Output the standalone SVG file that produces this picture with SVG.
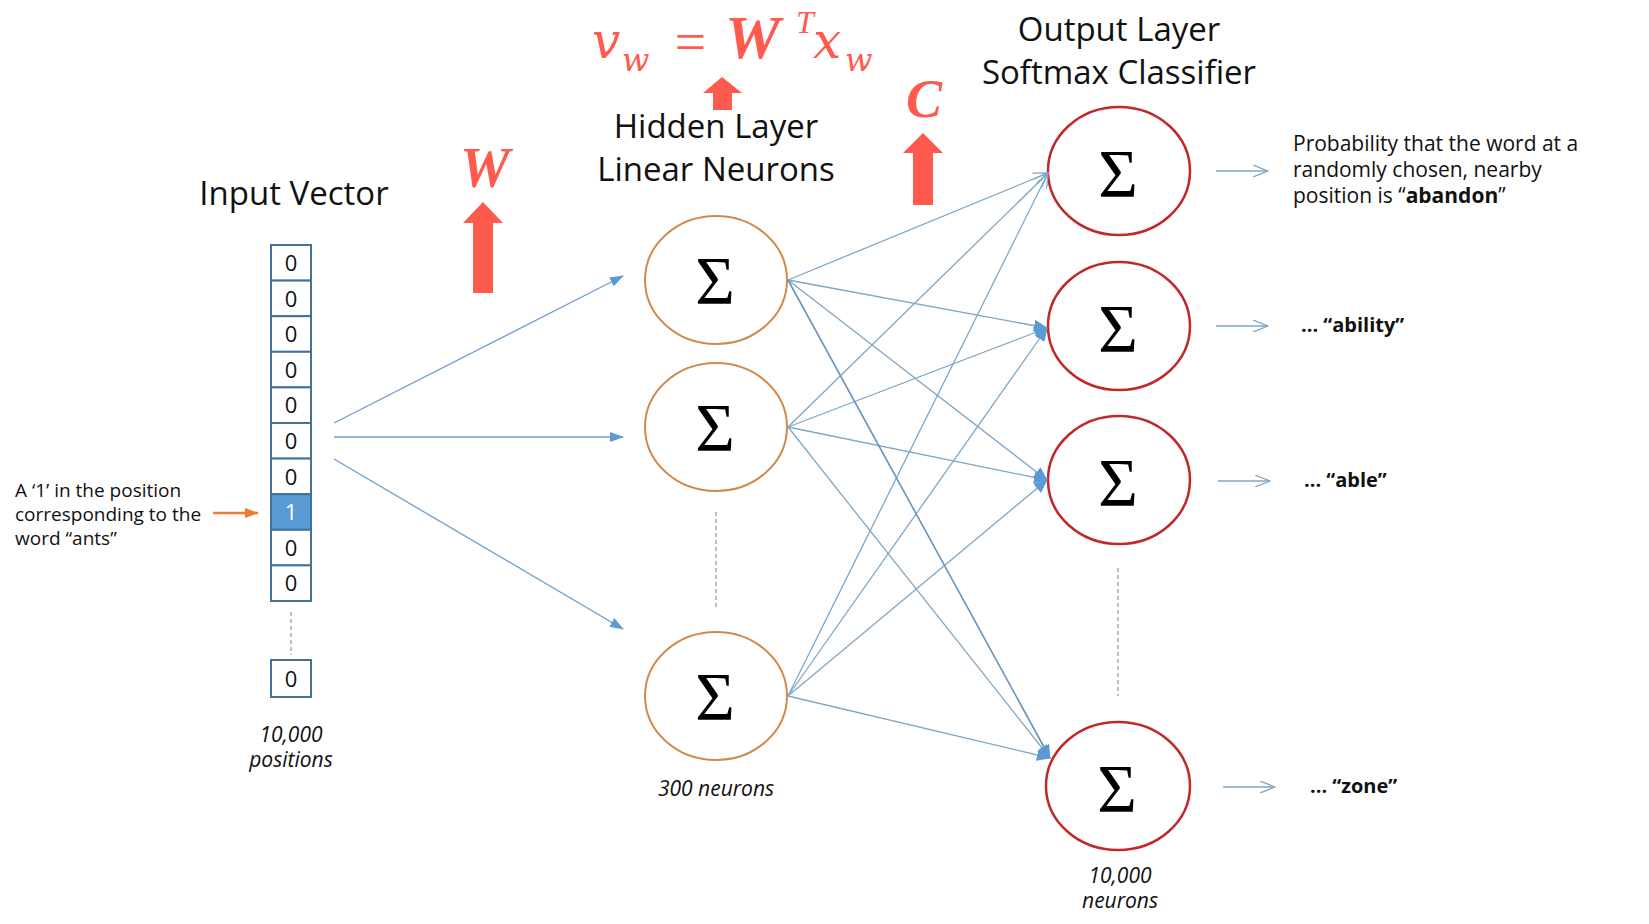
<svg xmlns="http://www.w3.org/2000/svg" width="1649" height="924" viewBox="0 0 1649 924">
<defs>
<style>
.t{font-family:"Open Sans","Noto Sans",sans-serif;fill:#111}
.title{font-size:33px}
.sm{font-size:19px}
.sr{font-size:21px}
.it{font-style:italic;font-size:21px}
.b{font-weight:bold}
.digit{font-family:"Open Sans",sans-serif;font-size:22px;text-anchor:middle;fill:#111}
.sig{font-family:"Liberation Serif","DejaVu Serif",serif;font-size:68px;text-anchor:middle;fill:#000}
.red{font-family:"Liberation Serif","DejaVu Serif",serif;font-style:italic;fill:#ff5a4e}
.redd{font-family:"DejaVu Serif","Liberation Serif",serif;font-style:italic;fill:#ff5a4e}
.box{fill:#fff;stroke:#41719c;stroke-width:2}
.hid{fill:#fff;stroke:#d08a4c;stroke-width:2}
.out{fill:#fff;stroke:#c0282b;stroke-width:2.5}
.c{stroke:#7fa6c6;stroke-width:1.3;fill:none}
.ci{stroke:#6f9ccc;stroke-width:1.3;fill:none}
.dash{stroke:#7a9ab5;stroke-width:1.2;stroke-dasharray:4 3;fill:none}
</style>
<marker id="af" markerWidth="14" markerHeight="10" refX="13" refY="5" orient="auto" markerUnits="userSpaceOnUse"><path d="M0,0 L14,5 L0,10 z" fill="#5b9bd5"/></marker>
<marker id="ah" markerWidth="14" markerHeight="12" refX="13" refY="6" orient="auto" markerUnits="userSpaceOnUse"><path d="M0,0 L14,6 L0,12 z" fill="#5b9bd5"/></marker>
<marker id="ao" markerWidth="16" markerHeight="12" refX="15" refY="6" orient="auto" markerUnits="userSpaceOnUse"><path d="M0,0 L15,6 L0,12" fill="none" stroke="#7fa6c6" stroke-width="1.3"/></marker>
<marker id="aor" markerWidth="14" markerHeight="10" refX="13" refY="5" orient="auto" markerUnits="userSpaceOnUse"><path d="M0,0 L14,5 L0,10 z" fill="#ed7d31"/></marker>
</defs>
<rect width="1649" height="924" fill="#fff"/>

<g id="formula">
<text class="redd" x="592" y="58" font-size="50">v</text>
<text class="redd" x="622" y="71" font-size="32">w</text>
<text class="red" x="671" y="61" font-size="56" font-style="normal">=</text>
<text class="red" x="725" y="58" font-size="62" font-weight="bold">W</text>
<text class="red" x="796" y="33" font-size="32">T</text>
<text class="redd" x="813" y="58" font-size="50">x</text>
<text class="redd" x="845" y="71" font-size="32">w</text>
<path d="M703,93 L722,77 L742,93 L732,93 L732,110 L713,110 L713,93 z" fill="#ff5a4e"/>
</g>

<g id="W-label">
<text class="red" x="485" y="187" font-size="56" font-weight="bold" text-anchor="middle">W</text>
<path d="M463,223 L483,202 L503,223 L493,223 L493,293 L473,293 L473,223 z" fill="#ff5a4e"/>
</g>
<g id="C-label">
<text class="red" x="924" y="117" font-size="54" font-weight="bold" text-anchor="middle">C</text>
<path d="M903,153 L923,133 L943,153 L933,153 L933,205 L913,205 L913,153 z" fill="#ff5a4e"/>
</g>

<g id="titles">
<text class="t title" x="294" y="205" text-anchor="middle">Input Vector</text>
<text class="t title" x="716" y="138" text-anchor="middle">Hidden Layer</text>
<text class="t title" x="716" y="181" text-anchor="middle">Linear Neurons</text>
<text class="t title" x="1119" y="41" text-anchor="middle">Output Layer</text>
<text class="t title" x="1119" y="84" text-anchor="middle">Softmax Classifier</text>
</g>

<g id="input-vector">
<rect class="box" x="271" y="245" width="40" height="35.6"/>
<rect class="box" x="271" y="280.6" width="40" height="35.6"/>
<rect class="box" x="271" y="316.2" width="40" height="35.6"/>
<rect class="box" x="271" y="351.8" width="40" height="35.6"/>
<rect class="box" x="271" y="387.4" width="40" height="35.6"/>
<rect class="box" x="271" y="423" width="40" height="35.6"/>
<rect class="box" x="271" y="458.6" width="40" height="35.6"/>
<rect x="271" y="494.2" width="40" height="35.6" fill="#5b9bd5" stroke="#41719c" stroke-width="2"/>
<rect class="box" x="271" y="529.8" width="40" height="35.6"/>
<rect class="box" x="271" y="565.4" width="40" height="35.6"/>
<rect class="box" x="271" y="660" width="40" height="37"/>
<text class="digit" x="291" y="271">0</text>
<text class="digit" x="291" y="306.6">0</text>
<text class="digit" x="291" y="342.2">0</text>
<text class="digit" x="291" y="377.8">0</text>
<text class="digit" x="291" y="413.4">0</text>
<text class="digit" x="291" y="449">0</text>
<text class="digit" x="291" y="484.6">0</text>
<text class="digit" x="291" y="520.2" style="fill:#fff">1</text>
<text class="digit" x="291" y="555.8">0</text>
<text class="digit" x="291" y="591.4">0</text>
<text class="digit" x="291" y="686.5">0</text>
<line class="dash" x1="291" y1="612" x2="291" y2="655"/>
<text class="t it" x="291" y="742" text-anchor="middle">10,000</text>
<text class="t it" x="291" y="767" text-anchor="middle">positions</text>
</g>

<g id="input-note">
<text class="t sm" x="15" y="497">A ‘1’ in the position</text>
<text class="t sm" x="15" y="521">corresponding to the</text>
<text class="t sm" x="15" y="545">word “ants”</text>
<line x1="213" y1="513" x2="258" y2="513" stroke="#ed7d31" stroke-width="2.5" marker-end="url(#aor)"/>
</g>

<g id="hidden-1">
<ellipse class="hid" cx="716" cy="280" rx="71" ry="64"/>
<text class="sig" x="715" y="303">Σ</text>
</g>
<g id="hidden-2">
<ellipse class="hid" cx="716" cy="427" rx="71" ry="64"/>
<text class="sig" x="715" y="450">Σ</text>
</g>
<g id="hidden-3">
<ellipse class="hid" cx="716" cy="696" rx="71" ry="64"/>
<text class="sig" x="715" y="719">Σ</text>
</g>
<line class="dash" x1="716" y1="512" x2="716" y2="608"/>
<text class="t it" x="716" y="796" text-anchor="middle">300 neurons</text>

<g id="output-1">
<ellipse class="out" cx="1119" cy="171" rx="71" ry="64"/>
<text class="sig" x="1118" y="196">Σ</text>
</g>
<g id="output-2">
<ellipse class="out" cx="1119" cy="326" rx="71" ry="64"/>
<text class="sig" x="1118" y="351">Σ</text>
</g>
<g id="output-3">
<ellipse class="out" cx="1119" cy="480" rx="71" ry="64"/>
<text class="sig" x="1118" y="505">Σ</text>
</g>
<g id="output-4">
<ellipse class="out" cx="1118" cy="786" rx="72" ry="64"/>
<text class="sig" x="1117" y="811">Σ</text>
</g>
<line class="dash" x1="1118" y1="568" x2="1118" y2="696"/>
<text class="t it" x="1120" y="883" text-anchor="middle">10,000</text>
<text class="t it" x="1120" y="908" text-anchor="middle">neurons</text>

<g id="output-labels">
<text class="t sr" x="1293" y="151">Probability that the word at a</text>
<text class="t sr" x="1293" y="177">randomly chosen, nearby</text>
<text class="t sr" x="1293" y="203">position is “<tspan class="b">abandon</tspan>”</text>
<text class="t b" x="1301" y="332" font-size="20">... “ability”</text>
<text class="t b" x="1304" y="487" font-size="20">... “able”</text>
<text class="t b" x="1310" y="793" font-size="20">... “zone”</text>
</g>

<g id="connectors">
<line class="ci" x1="334" y1="423" x2="623" y2="276" marker-end="url(#af)"/>
<line class="ci" x1="334" y1="437" x2="623" y2="437" marker-end="url(#af)"/>
<line class="ci" x1="334" y1="459" x2="623" y2="629" marker-end="url(#af)"/>

<line class="c" x1="788" y1="280" x2="1048" y2="173" marker-end="url(#ao)"/>
<line class="c" x1="788" y1="427" x2="1048" y2="173" marker-end="url(#ao)"/>
<line class="c" x1="788" y1="696" x2="1048" y2="173" marker-end="url(#ao)"/>

<line class="c" x1="788" y1="280" x2="1047" y2="328" marker-end="url(#ah)"/>
<line class="c" x1="788" y1="427" x2="1047" y2="328" marker-end="url(#ah)"/>
<line class="c" x1="788" y1="696" x2="1047" y2="328" marker-end="url(#ah)"/>

<line class="c" x1="788" y1="280" x2="1047" y2="480" marker-end="url(#ah)"/>
<line class="c" x1="788" y1="427" x2="1047" y2="480" marker-end="url(#ah)"/>
<line class="c" x1="788" y1="696" x2="1047" y2="480" marker-end="url(#ah)"/>

<line class="c" x1="788" y1="280" x2="1050" y2="758" marker-end="url(#ah)" style="stroke:#6a93b8;stroke-width:1.6"/>
<line class="c" x1="788" y1="427" x2="1050" y2="758" marker-end="url(#ah)"/>
<line class="c" x1="788" y1="696" x2="1050" y2="758" marker-end="url(#ah)"/>

<line class="c" x1="1216" y1="171" x2="1268" y2="171" marker-end="url(#ao)"/>
<line class="c" x1="1216" y1="326" x2="1268" y2="326" marker-end="url(#ao)"/>
<line class="c" x1="1218" y1="481" x2="1270" y2="481" marker-end="url(#ao)"/>
<line class="c" x1="1223" y1="787" x2="1275" y2="787" marker-end="url(#ao)"/>
</g>
</svg>
